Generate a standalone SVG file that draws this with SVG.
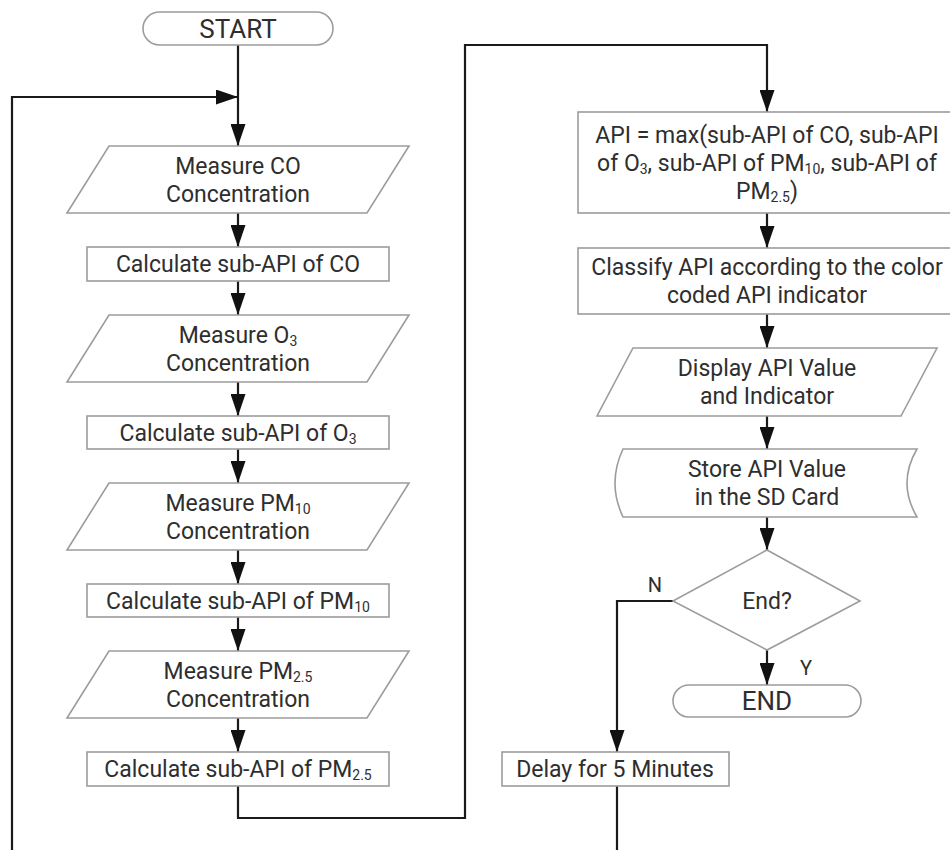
<svg xmlns="http://www.w3.org/2000/svg" width="950" height="850" viewBox="0 0 950 850">
<defs>
<marker id="ah" markerUnits="userSpaceOnUse" markerWidth="22" markerHeight="15" refX="22" refY="7.5" orient="auto">
<path d="M0,0 L22,7.5 L0,15 Z" fill="#111"/>
</marker>
<style>
.box{fill:#fff;stroke:#9c9c9c;stroke-width:1.6}
.t{font-family:Roboto,"Open Sans",sans-serif;font-size:23px;fill:#2e2e2e;text-anchor:middle}
.term{font-size:26px}
.lbl{font-size:20px}
.c{fill:none;stroke:#1a1a1a;stroke-width:2.2}
.a{marker-end:url(#ah)}
.s{font-size:14px}
</style>
</defs>
<rect width="950" height="850" fill="#fff"/>

<g id="connectors">
<line class="c a" x1="238" y1="45" x2="238" y2="146"/>
<line class="c a" x1="238" y1="213" x2="238" y2="247"/>
<line class="c a" x1="238" y1="281" x2="238" y2="315"/>
<line class="c a" x1="238" y1="382" x2="238" y2="416"/>
<line class="c a" x1="238" y1="449" x2="238" y2="483"/>
<line class="c a" x1="238" y1="550" x2="238" y2="584"/>
<line class="c a" x1="238" y1="617" x2="238" y2="651"/>
<line class="c a" x1="238" y1="718" x2="238" y2="752"/>
<path class="c a" d="M238,786 V818 H465 V45 H767 V112"/>
<line class="c a" x1="767" y1="213" x2="767" y2="248"/>
<line class="c a" x1="767" y1="314" x2="767" y2="348"/>
<line class="c a" x1="767" y1="416" x2="767" y2="449"/>
<line class="c a" x1="767" y1="517" x2="767" y2="550"/>
<line class="c a" x1="767" y1="650" x2="767" y2="685"/>
<path class="c a" d="M673,601 H617 V752"/>
<path class="c a" d="M617,786 V858 H12 V97 H238"/>
<text class="t lbl" x="655" y="592">N</text>
<text class="t lbl" x="806" y="675">Y</text>
</g>

<g id="start">
<rect class="box" x="143" y="12" width="190" height="33" rx="16.5"/>
<text class="t term" x="238" y="38">START</text>
</g>

<g id="measure-co">
<path class="box" d="M109,146 H409 L367,213 H67 Z"/>
<text class="t"><tspan x="238" y="174">Measure CO</tspan><tspan x="238" y="202">Concentration</tspan></text>
</g>

<g id="calc-co">
<rect class="box" x="87" y="247" width="302" height="34"/>
<text class="t" x="238" y="272">Calculate sub-API of CO</text>
</g>

<g id="measure-o3">
<path class="box" d="M109,315 H409 L367,382 H67 Z"/>
<text class="t"><tspan x="238" y="343">Measure O<tspan class="s" dy="3">3</tspan></tspan><tspan x="238" y="371">Concentration</tspan></text>
</g>

<g id="calc-o3">
<rect class="box" x="87" y="416" width="302" height="33"/>
<text class="t" x="238" y="441">Calculate sub-API of O<tspan class="s" dy="3">3</tspan></text>
</g>

<g id="measure-pm10">
<path class="box" d="M109,483 H409 L367,550 H67 Z"/>
<text class="t"><tspan x="238" y="511">Measure PM<tspan class="s" dy="3">10</tspan></tspan><tspan x="238" y="539">Concentration</tspan></text>
</g>

<g id="calc-pm10">
<rect class="box" x="87" y="584" width="302" height="33"/>
<text class="t" x="238" y="609">Calculate sub-API of PM<tspan class="s" dy="3">10</tspan></text>
</g>

<g id="measure-pm25">
<path class="box" d="M109,651 H409 L367,718 H67 Z"/>
<text class="t"><tspan x="238" y="679">Measure PM<tspan class="s" dy="3">2.5</tspan></tspan><tspan x="238" y="707">Concentration</tspan></text>
</g>

<g id="calc-pm25">
<rect class="box" x="87" y="752" width="302" height="34"/>
<text class="t" x="238" y="777">Calculate sub-API of PM<tspan class="s" dy="3">2.5</tspan></text>
</g>

<g id="api-max">
<rect class="box" x="578" y="112" width="378" height="101"/>
<text class="t"><tspan x="767" y="143">API = max(sub-API of CO, sub-API</tspan><tspan x="767" y="171">of O<tspan class="s" dy="3">3</tspan><tspan dy="-3">, sub-API of PM</tspan><tspan class="s" dy="3">10</tspan><tspan dy="-3">, sub-API of</tspan></tspan><tspan x="767" y="199">PM<tspan class="s" dy="3">2.5</tspan><tspan dy="-3">)</tspan></tspan></text>
</g>

<g id="classify">
<rect class="box" x="578" y="248" width="378" height="66"/>
<text class="t"><tspan x="767" y="275">Classify API according to the color</tspan><tspan x="767" y="303">coded API indicator</tspan></text>
</g>

<g id="display">
<path class="box" d="M633,348 H937 L901,416 H597 Z"/>
<text class="t"><tspan x="767" y="376">Display API Value</tspan><tspan x="767" y="404">and Indicator</tspan></text>
</g>

<g id="store">
<path class="box" d="M623,449 H917 Q897,483 917,517 H623 Q607,483 623,449 Z"/>
<text class="t"><tspan x="767" y="477">Store API Value</tspan><tspan x="767" y="505">in the SD Card</tspan></text>
</g>

<g id="decision">
<path class="box" d="M767,550 L860,601 L767,650 L673,601 Z"/>
<text class="t" x="767" y="609">End?</text>
</g>

<g id="end">
<rect class="box" x="673" y="685" width="188" height="32" rx="16"/>
<text class="t term" x="767" y="710">END</text>
</g>

<g id="delay">
<rect class="box" x="502" y="752" width="227" height="34"/>
<text class="t" x="615" y="777">Delay for 5 Minutes</text>
</g>
</svg>
